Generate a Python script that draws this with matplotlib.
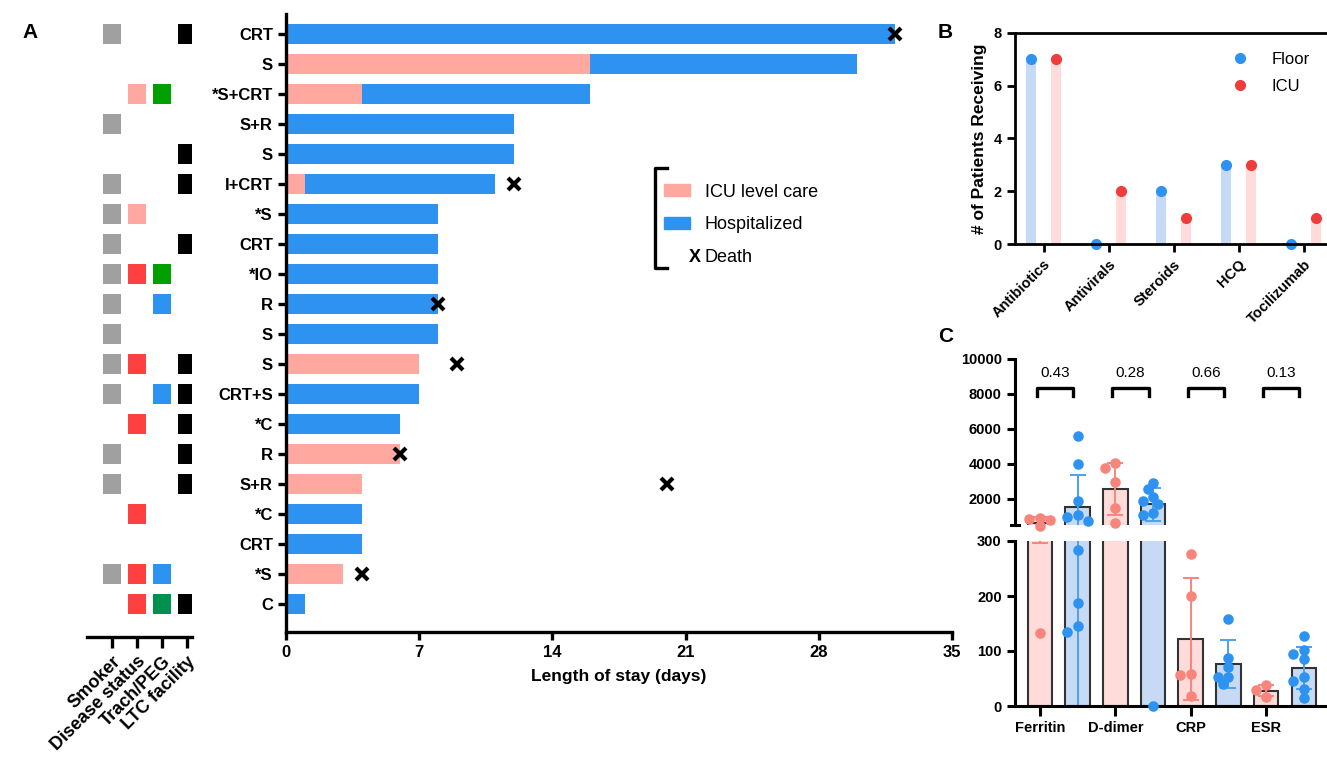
import numpy as np
import matplotlib
matplotlib.use("Agg")
import matplotlib.pyplot as plt
from matplotlib.patches import Patch
from matplotlib.lines import Line2D

plt.rcParams["font.family"] = ["Liberation Sans", "DejaVu Sans"]

# ---------------- panel A: one row per patient, top row first ----------------
regimens = ["CRT", "S", "*S+CRT", "S+R", "S", "I+CRT", "*S", "CRT", "*IO", "R",
            "S", "S", "CRT+S", "*C", "R", "S+R", "*C", "CRT", "*S", "C"]
icu_days = [0, 16, 4, 0, 0, 1, 0, 0, 0, 0, 0, 7, 0, 0, 6, 4, 0, 0, 3, 0]
total_days = [32, 30, 16, 12, 12, 11, 8, 8, 8, 8, 8, 7, 7, 6, 6, 4, 4, 4, 3, 1]
death_day = [32, np.nan, np.nan, np.nan, np.nan, 12, np.nan, np.nan, np.nan, 8,
             np.nan, 9, np.nan, np.nan, 6, 20, np.nan, np.nan, 4, np.nan]

# status grid: 0 = absent, other codes pick a colour
smoker = [1, 0, 0, 1, 0, 1, 1, 1, 1, 1, 1, 1, 1, 0, 1, 1, 0, 0, 1, 0]
disease = [0, 0, 1, 0, 0, 0, 1, 0, 2, 0, 0, 2, 0, 2, 0, 0, 2, 0, 2, 2]
trach = [0, 0, 1, 0, 0, 0, 0, 0, 1, 2, 0, 0, 2, 0, 0, 0, 0, 0, 2, 3]
ltc = [1, 0, 0, 0, 1, 1, 0, 1, 0, 0, 0, 1, 1, 1, 1, 1, 0, 0, 0, 1]
grid_labels = ["Smoker", "Disease status", "Trach/PEG", "LTC facility"]

# ---------------- panel B ----------------
drugs = ["Antibiotics", "Antivirals", "Steroids", "HCQ", "Tocilizumab"]
floor_n = [7, 0, 2, 3, 0]
icu_n = [7, 2, 1, 3, 1]

# ---------------- panel C ----------------
labs = ["Ferritin", "D-dimer", "CRP", "ESR"]
ferritin_icu = [918, 860, 780, 450, 132]
ferritin_floor = [5600, 4000, 1890, 1070, 975, 746, 284, 188, 145, 135]
ddimer_icu = [4050, 3790, 2980, 1456, 632]
ddimer_floor = [2923, 2543, 2120, 1891, 1702, 1170, 1072, 0]
crp_icu = [277, 200, 59, 56, 18]
crp_floor = [159, 87, 71, 53, 52, 40]
esr_icu = [38, 29, 17]
esr_floor = [127, 101, 95, 86, 53, 46, 31, 14]
p_values = ["0.43", "0.28", "0.66", "0.13"]

ICU_PINK = "#FFA8A0"
HOSP_BLUE = "#2E93F0"
RED = "#F03C3C"
SALMON = "#F8857C"
LIGHT_BLUE = "#C6DAF5"
LIGHT_PINK = "#FFDCD9"

W, H = 1327, 771
fig = plt.figure(figsize=(W / 100, H / 100), dpi=100)


def px_axes(left, top, right, bottom):
    return fig.add_axes([left / W, 1 - bottom / H, (right - left) / W, (bottom - top) / H])


def style(ax, lw=2.2):
    for s in ("top", "right"):
        ax.spines[s].set_visible(False)
    for s in ("left", "bottom"):
        ax.spines[s].set_linewidth(lw)
    ax.tick_params(width=lw, length=6, color="k")


# ================= panel A: length of stay =================
ax = px_axes(286, 14, 952, 632)
rows = np.arange(len(regimens))
icu = np.array(icu_days)
hosp = np.array(total_days) - icu
ax.barh(rows, icu, height=0.66, color=ICU_PINK)
ax.barh(rows, hosp, left=icu, height=0.66, color=HOSP_BLUE)
ax.plot(death_day, rows, "x", color="k", ms=9, mew=3, clip_on=False)
ax.set_xlim(0, 35)
ax.set_ylim(19.93, -0.67)
ax.set_xticks(range(0, 36, 7))
ax.set_yticks(rows)
ax.set_yticklabels(regimens)
style(ax, 2.4)
ax.tick_params(labelsize=12)
for t in ax.get_xticklabels() + ax.get_yticklabels():
    t.set_fontweight("bold")
ax.set_xlabel("Length of stay (days)", fontsize=12.5, fontweight="bold", labelpad=6)

handles = [Patch(color=ICU_PINK, label="ICU level care"),
           Patch(color=HOSP_BLUE, label="Hospitalized"),
           Line2D([], [], ls="none", label="Death")]
leg = ax.legend(handles=handles, loc="upper left", bbox_to_anchor=(0.5676, 0.7255),
                frameon=False, fontsize=13, handlelength=1.45, handleheight=0.64,
                handletextpad=0.8, labelspacing=0.86, borderpad=0, borderaxespad=0)
bx, bx2, by0, by1 = 0.554, 0.572, 0.589, 0.751
ax.plot([bx2, bx, bx, bx2], [by1, by1, by0, by0], color="k", lw=2.4,
        transform=ax.transAxes, clip_on=False)
fig.canvas.draw()
death_box = leg.get_texts()[2].get_window_extent()
fig.text((death_box.x0 - 4) / W, (death_box.y0 + death_box.y1) / 2 / H, "X",
         fontsize=13, fontweight="bold", ha="right", va="center")

# status grid to the left
axh = px_axes(87, 14, 192, 637)
code_sets = [smoker, disease, trach, ltc]
palettes = [{1: "#A0A0A0"},
            {1: "#FFA8A2", 2: "#FF4040"},
            {1: "#00A000", 2: HOSP_BLUE, 3: "#009050"},
            {1: "#000000"}]
for col, (codes, pal) in enumerate(zip(code_sets, palettes)):
    codes = np.array(codes)
    hit = codes > 0
    axh.bar(np.full(hit.sum(), col), 0.66, bottom=rows[hit] - 0.33, width=0.72,
            color=[pal[c] for c in codes[hit]])
axh.set_xlim(-1.0, 3.2)
axh.set_ylim(20.1, -0.67)
for s in ("top", "right", "left"):
    axh.spines[s].set_visible(False)
axh.spines["bottom"].set_linewidth(2.4)
axh.set_yticks([])
axh.set_xticks(range(4))
axh.set_xticklabels(grid_labels, fontsize=13, fontweight="bold")
axh.tick_params(axis="x", width=2.4, length=8)
plt.setp(axh.get_xticklabels(), rotation=45, ha="right", rotation_mode="anchor")

# ================= panel B =================
axb = px_axes(1015, 32.7, 1340, 244)
xb = np.arange(len(drugs))
off = 0.19
axb.bar(xb - off, floor_n, width=0.15, color=LIGHT_BLUE)
axb.bar(xb + off, icu_n, width=0.15, color=LIGHT_PINK)
axb.plot(xb - off, floor_n, "o", color=HOSP_BLUE, ms=7, clip_on=False, label="Floor")
axb.plot(xb + off, icu_n, "o", color=RED, ms=7, clip_on=False, label="ICU")
axb.set_xlim(-0.44, 4.56)
axb.set_ylim(0, 8)
axb.set_yticks(range(0, 9, 2))
axb.set_xticks(xb)
axb.set_xticklabels(drugs)
style(axb, 2.0)
axb.spines["top"].set_visible(True)
axb.spines["top"].set_linewidth(2.0)
axb.tick_params(labelsize=10.5)
for t in axb.get_xticklabels() + axb.get_yticklabels():
    t.set_fontweight("bold")
plt.setp(axb.get_xticklabels(), rotation=45, ha="right", rotation_mode="anchor")
axb.set_ylabel("# of Patients Receiving", fontsize=12.5, fontweight="bold", labelpad=5)
axb.legend(loc="upper left", bbox_to_anchor=(0.64, 0.91), frameon=False, fontsize=12,
           handletextpad=0.9, labelspacing=0.75, borderpad=0, borderaxespad=0)

# ================= panel C: segmented y axis =================
ax_hi = px_axes(1015, 359, 1340, 525)
ax_lo = px_axes(1015, 541, 1340, 706)
groups = [ferritin_icu, ferritin_floor, ddimer_icu, ddimer_floor,
          crp_icu, crp_floor, esr_icu, esr_floor]
xc = np.arange(len(groups))
means = np.array([np.mean(g) for g in groups])
sds = np.array([np.std(g, ddof=1) for g in groups])
faces = [LIGHT_PINK, LIGHT_BLUE] * 4
dots = [SALMON, HOSP_BLUE] * 4
err_cols = ["#F8857C", "#4DA0F0"] * 4
yerr = np.vstack([np.minimum(sds, means), sds])

for a, lim in ((ax_hi, (500, 10000)), (ax_lo, (0, 300))):
    a.set_xlim(-0.663, 7.96)
    a.set_ylim(*lim)
    a.bar(xc, means, width=0.65, color=faces, edgecolor="#333333", linewidth=1.5, zorder=1)
    for i in xc:
        a.errorbar(xc[i], means[i], yerr=yerr[:, i:i + 1], color=err_cols[i], lw=1.4,
                   capsize=6, capthick=1.4, zorder=2)
    style(a, 2.2)
    a.tick_params(labelsize=10.5)

fig.canvas.draw()
unit_px = ax_lo.transData.transform((1, 0))[0] - ax_lo.transData.transform((0, 0))[0]
diam = 10.5
for i, vals in enumerate(groups):
    placed = []
    for v in sorted(vals, reverse=True):
        a = ax_hi if v > 300 else ax_lo
        ypx = a.transData.transform((0, v))[1]
        for k in (0, -1, 1, -2, 2, -3, 3):
            xpx = k * diam * 0.5
            if all(np.hypot(xpx - px, ypx - py) >= diam * 0.75 for px, py in placed):
                break
        placed.append((xpx, ypx))
        a.plot(xc[i] + xpx / unit_px, v, "o", color=dots[i], ms=7.6, mew=0,
               clip_on=False, zorder=3)

ax_hi.set_yticks([2000, 4000, 6000, 8000, 10000])
ax_hi.spines["bottom"].set_visible(False)
ax_hi.set_xticks([])
ax_lo.set_yticks([0, 100, 200, 300])
ax_lo.set_xticks(xc[::2])
ax_lo.set_xticklabels(labs)
ax_lo.tick_params(axis="x", length=7)
for a in (ax_hi, ax_lo):
    for t in a.get_xticklabels() + a.get_yticklabels():
        t.set_fontweight("bold")
# small cap where the upper segment of the axis stops
ax_hi.plot([-0.012, 0.012], [500, 500], color="k", lw=2.2,
           transform=ax_hi.get_yaxis_transform(), clip_on=False)

for j, p in enumerate(p_values):
    x0, x1 = 2 * j - 0.08, 2 * j + 0.88
    ax_hi.plot([x0, x0, x1, x1], [7900, 8350, 8350, 7900], color="k", lw=2.4, clip_on=False)
    ax_hi.text((x0 + x1) / 2, 8800, p, ha="center", va="bottom", fontsize=11)

fig.text(22 / W, 1 - 33 / H, "A", fontsize=15, fontweight="bold", va="center")
fig.text(938 / W, 1 - 32 / H, "B", fontsize=15, fontweight="bold", va="center")
fig.text(938 / W, 1 - 337 / H, "C", fontsize=15, fontweight="bold", va="center")

fig.savefig("out.png", dpi=100)
